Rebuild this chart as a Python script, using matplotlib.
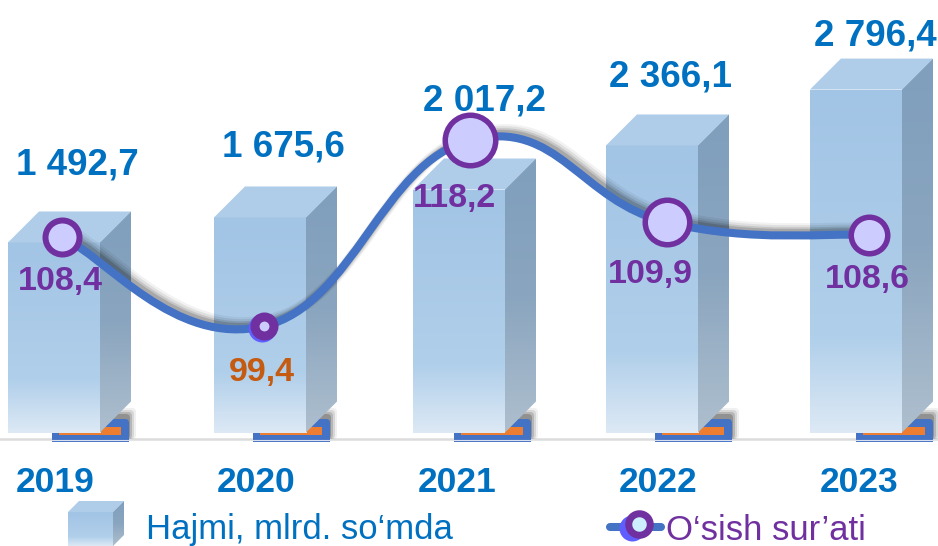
"""Hajmi (mlrd. so'm) va o'sish sur'ati, 2019-2023: soxta 3D ustunlar va silliq chiziq."""

import matplotlib
matplotlib.use("Agg")
import matplotlib.pyplot as plt
import numpy as np
from matplotlib.colors import LinearSegmentedColormap
from matplotlib.patches import FancyBboxPatch, PathPatch, Polygon, Rectangle
from matplotlib.path import Path

YEARS = ["2019", "2020", "2021", "2022", "2023"]
VOLUME_LABELS = ["1 492,7", "1 675,6", "2 017,2", "2 366,1", "2 796,4"]
# bar heights as actually drawn in the picture (it is not strictly to scale with the labels)
VOLUME_DRAWN = [1549, 1753, 1981, 2340, 2796]
GROWTH = [108.4, 99.4, 118.2, 109.9, 108.6]
GROWTH_LABELS = ["108,4", "99,4", "118,2", "109,9", "108,6"]

COLOR_BLUE_TEXT = "#0070c0"
COLOR_PURPLE = "#7030a0"
COLOR_ORANGE_TEXT = "#c55a11"
COLOR_LINE = "#4472c4"
COLOR_ORANGE = "#ed7d31"
COLOR_MARKER = "#ccccff"
COLOR_HALO = "#5f5fff"
COLOR_TOP = "#afcde9"
COLOR_AXIS = "#dcdcdc"

FONT = ["Liberation Sans", "DejaVu Sans"]

# layout in pixels of the 938x546 picture
W, H = 938, 546
STEP = 201.0
X0 = 55.0
BASE_PX = 432.5
PX_PER_VOL = 0.12266
PX_PER_PCT = 9.89
PCT_MID, PX_MID = 108.9, 232.2
BAR_W = 92
DEPTH = 31
BAR_SHIFT = [-1, 4, 2, -6, -3]
MARKER_SHIFT = [7, 8, 13, 9, 10]
MARKER_R = [20, 14, 28, 25, 21]
MARKER_RING = [6, 9, 5.5, 5.5, 5.5]
VOL_TEXT = [(77, 165), (283, 147), (484, 101), (670, 77), (875, 36)]
RATE_TEXT = [(60, 281), (262, 372), (454, 198), (650, 274), (867, 279)]
PT = 0.72

front_cmap = LinearSegmentedColormap.from_list(
    "front", [(0, "#a2c4e5"), (0.72, "#b0cfea"), (1, "#dde9f5")])
side_cmap = LinearSegmentedColormap.from_list("side", ["#7f9fbd", "#8aa5bf", "#aebfce"])
GRAD = np.linspace(0, 1, 256).reshape(-1, 1)


def px_to_volume(py):
    return (BASE_PX - py) / PX_PER_VOL


def px_to_pct(py):
    return PCT_MID + (PX_MID - py) / PX_PER_PCT


def px_to_cat(px):
    return (px - X0) / STEP


def cube(ax, left, top, bottom, depth, width, zorder):
    """Front, top and side faces of a box; pixel geometry converted to axis units."""
    right = left + width
    pts = lambda seq: [(px_to_cat(x), px_to_volume(y)) for x, y in seq]
    ext = [px_to_cat(left), px_to_cat(right), px_to_volume(bottom), px_to_volume(top)]
    ax.imshow(GRAD, extent=ext, cmap=front_cmap, aspect="auto", zorder=zorder,
              origin="upper", vmin=0, vmax=1)
    ax.add_patch(Polygon(pts([(left, top), (left + depth, top - depth),
                              (right + depth, top - depth), (right, top)]),
                         closed=True, fc=COLOR_TOP, ec="none", zorder=zorder))
    side = Polygon(pts([(right, top), (right + depth, top - depth),
                        (right + depth, bottom - depth), (right, bottom)]),
                   closed=True, fc="none", ec="none", zorder=zorder)
    ax.add_patch(side)
    ext_side = [px_to_cat(right), px_to_cat(right + depth),
                px_to_volume(bottom), px_to_volume(top - depth)]
    im = ax.imshow(GRAD, extent=ext_side, cmap=side_cmap, aspect="auto", zorder=zorder,
                   origin="upper", vmin=0, vmax=1)
    im.set_clip_path(side)


def base_shape(ax, i):
    """Blue and orange shape that peeks out under every bar, with its soft shadow."""
    left = X0 + STEP * i - 3
    aspect = STEP / PX_PER_VOL
    for grow, alpha in [(7, 0.06), (5, 0.1), (3, 0.15), (1, 0.2)]:
        ax.add_patch(FancyBboxPatch(
            (px_to_cat(left + 40), px_to_volume(439)),
            (37 + grow) / STEP, (24 + grow) / PX_PER_VOL,
            boxstyle=f"round,pad=0,rounding_size={4 / STEP}", mutation_aspect=aspect,
            fc="black", ec="none", alpha=alpha, zorder=2))
    ax.add_patch(FancyBboxPatch(
        (px_to_cat(left), px_to_volume(442)), 77 / STEP, 23 / PX_PER_VOL,
        boxstyle=f"round,pad=0,rounding_size={4 / STEP}", mutation_aspect=aspect,
        fc=COLOR_LINE, ec="none", zorder=3))
    ax.add_patch(Rectangle((px_to_cat(left), px_to_volume(442)), 77 / STEP, 8 / PX_PER_VOL,
                           fc=COLOR_LINE, ec="none", zorder=3))
    ax.add_patch(Rectangle((px_to_cat(left + 7), px_to_volume(435)), 62 / STEP, 8 / PX_PER_VOL,
                           fc=COLOR_ORANGE, ec="none", zorder=4))
    ax.plot([px_to_cat(left), px_to_cat(left + 77)], [px_to_volume(440.3)] * 2,
            color="#d8e0f0", lw=0.8, zorder=4)


def smooth_path(xs, ys, tension=0.22):
    """Excel-like smoothed line as Bezier segments through the points."""
    xs = np.asarray(xs, float)
    ys = np.asarray(ys, float)
    verts = [(xs[0], ys[0])]
    codes = [Path.MOVETO]
    n = len(xs)
    for i in range(n - 1):
        i0, i3 = max(i - 1, 0), min(i + 2, n - 1)
        c1 = (xs[i] + (xs[i + 1] - xs[i0]) * tension, ys[i] + (ys[i + 1] - ys[i0]) * tension)
        c2 = (xs[i + 1] - (xs[i3] - xs[i]) * tension, ys[i + 1] - (ys[i3] - ys[i]) * tension)
        verts += [c1, c2, (xs[i + 1], ys[i + 1])]
        codes += [Path.CURVE4] * 3
    return Path(verts, codes)


def main():
    plt.rcParams["font.family"] = FONT
    fig = plt.figure(figsize=(W / 100, H / 100), dpi=100, facecolor="white")

    ax = fig.add_axes([0, 0, 1, 1])
    x_lim = (px_to_cat(0), px_to_cat(W))
    y_lim = (px_to_volume(H), px_to_volume(0))
    ax.axis("off")

    ax.plot(x_lim, [px_to_volume(439)] * 2, color=COLOR_AXIS, lw=1.8, zorder=1)
    for i in range(len(YEARS)):
        base_shape(ax, i)
        left = X0 + STEP * i + BAR_SHIFT[i] - BAR_W / 2
        top = BASE_PX - VOLUME_DRAWN[i] * PX_PER_VOL
        cube(ax, left, top, BASE_PX, DEPTH, BAR_W, 5)
        ax.text(i, px_to_volume(483), YEARS[i], ha="center", va="center",
                color=COLOR_BLUE_TEXT, fontsize=25.5, fontweight="bold", zorder=12)
        tx, ty = VOL_TEXT[i]
        ax.text(px_to_cat(tx), px_to_volume(ty), VOLUME_LABELS[i], ha="center", va="center",
                color=COLOR_BLUE_TEXT, fontsize=26.5, fontweight="bold", zorder=12)

    # legend box
    cube(ax, 68, 512, 546, 11, 45, 5)

    ax.text(px_to_cat(146), px_to_volume(530), "Hajmi, mlrd. so‘mda", ha="left", va="center",
            color=COLOR_BLUE_TEXT, fontsize=25)
    ax.set_xlim(x_lim)
    ax.set_ylim(y_lim)

    # growth rate on its own hidden axis
    ax2 = ax.twinx()
    ax2.axis("off")
    ax2.set_ylim(px_to_pct(H), px_to_pct(0))
    ax2.set_xlim(x_lim)
    xs = [i + MARKER_SHIFT[i] / STEP for i in range(len(GROWTH))]
    path = smooth_path(xs, GROWTH)

    for off, lw, alpha in [(6, 9, 0.05), (5, 7.5, 0.08), (4, 6, 0.11), (3, 5, 0.15)]:
        shifted = Path(path.vertices + [off / STEP, off / PX_PER_PCT], path.codes)
        ax2.add_patch(PathPatch(shifted, fc="none", ec="black", lw=lw, alpha=alpha, zorder=6))
    ax2.add_patch(PathPatch(path, fc="none", ec=COLOR_LINE, lw=5.8, capstyle="round", zorder=7))

    for i, g in enumerate(GROWTH):
        r, ring = MARKER_R[i], MARKER_RING[i]
        if g < 100:
            # the smallest point shows a blue disc behind the ring
            ax2.plot(px_to_cat(X0 + STEP * i + MARKER_SHIFT[i] - 2), g - 1.5 / PX_PER_PCT, "o",
                     ms=28 * PT, mfc=COLOR_HALO, mec="none", zorder=8)
        ax2.plot(xs[i], g, "o", ms=(2 * r - ring) * PT, mfc=COLOR_MARKER, mec=COLOR_PURPLE,
                 mew=ring * PT, zorder=8)
        tx, ty = RATE_TEXT[i]
        color = COLOR_ORANGE_TEXT if g < 100 else COLOR_PURPLE
        ax2.text(px_to_cat(tx), px_to_pct(ty), GROWTH_LABELS[i], ha="center",
                 va="center", color=color, fontsize=24.5, fontweight="bold", zorder=9)

    # legend line key
    ax2.plot([px_to_cat(610), px_to_cat(661)], [px_to_pct(527)] * 2, color=COLOR_LINE, lw=5.8,
             solid_capstyle="round", zorder=7)
    ax2.plot(px_to_cat(632), px_to_pct(528), "o", ms=26 * PT, mfc=COLOR_HALO, mec="none", zorder=8)
    ax2.plot(px_to_cat(639), px_to_pct(524), "o", ms=21.5 * PT, mfc="#cceeff",
             mec=COLOR_PURPLE, mew=7 * PT, zorder=9)
    ax2.text(px_to_cat(666), px_to_pct(530), "O‘sish sur’ati", ha="left", va="center",
             color=COLOR_PURPLE, fontsize=25)

    fig.savefig("out.png", dpi=100, facecolor="white")


if __name__ == "__main__":
    main()
